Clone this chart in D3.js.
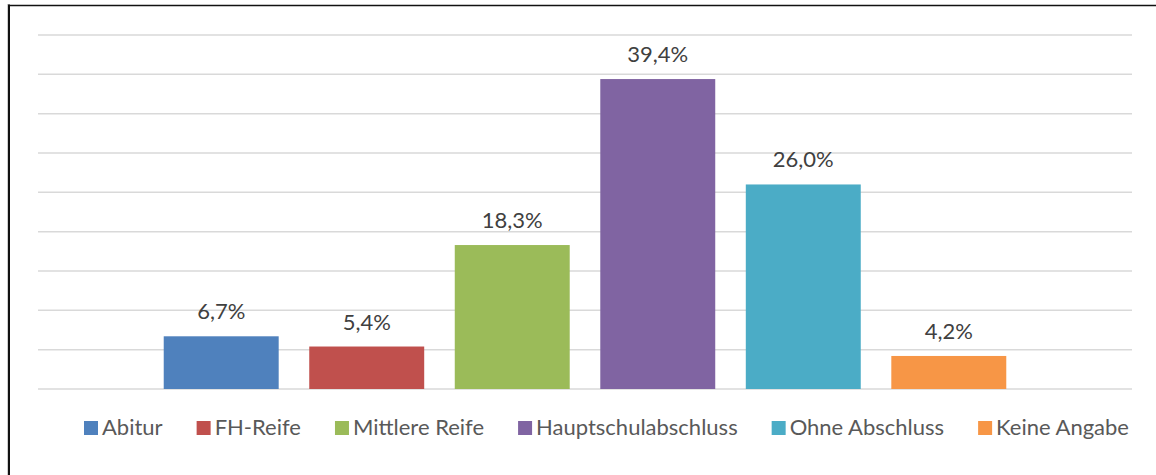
<!DOCTYPE html>
<html>
<head>
<meta charset="utf-8">
<script src="https://cdn.jsdelivr.net/npm/d3@7"></script>
<style>
  html, body { margin: 0; padding: 0; background: #fff; }
  svg { display: block; }
  text { font-family: Lato, "Open Sans", sans-serif; }
</style>
</head>
<body>
<svg width="1156" height="475"></svg>
<script>
// --- data ---
const categories = ["Abitur", "FH-Reife", "Mittlere Reife", "Hauptschulabschluss", "Ohne Abschluss", "Keine Angabe"];
const values = [6.7, 5.4, 18.3, 39.4, 26.0, 4.2];
const colors = ["#4F81BD", "#C0504D", "#9BBB59", "#8064A2", "#4BACC6", "#F79646"];
const gridTicks = [0, 5, 10, 15, 20, 25, 30, 35, 40, 45];

const svg = d3.select("svg");
const width = 1156, height = 475;
const plot = {left: 38, right: 1132, top: 35, bottom: 389};

// chart frame (only left and top edges are visible in the crop)
svg.append("line").attr("x1", 7.5).attr("x2", 7.5).attr("y1", 4).attr("y2", height)
  .attr("stroke", "#cfcfcf").attr("stroke-width", 1);
svg.append("line").attr("x1", 9).attr("x2", 9).attr("y1", 4.5).attr("y2", height)
  .attr("stroke", "#111").attr("stroke-width", 2);
svg.append("line").attr("x1", 8).attr("x2", width).attr("y1", 5.5).attr("y2", 5.5)
  .attr("stroke", "#111").attr("stroke-width", 1.5);

const y = d3.scaleLinear().domain([0, 45]).range([plot.bottom, plot.top]);
const x = d3.scaleBand().domain(categories).range([plot.left, plot.right])
  .paddingInner(0.21).paddingOuter(0.864);

// gridlines
svg.append("g").selectAll("line").data(gridTicks).enter().append("line")
  .attr("x1", plot.left).attr("x2", plot.right)
  .attr("y1", d => y(d)).attr("y2", d => y(d))
  .attr("stroke", "#d9d9d9").attr("stroke-width", 1.5);

// bars
svg.append("g").selectAll("rect").data(categories).enter().append("rect")
  .attr("x", d => x(d)).attr("width", x.bandwidth())
  .attr("y", (d, i) => y(values[i]))
  .attr("height", (d, i) => y(0) - y(values[i]))
  .attr("fill", (d, i) => colors[i]);

// value labels
const fmt = v => v.toFixed(1).replace(".", ",") + "%";
svg.append("g").selectAll("text").data(categories).enter().append("text")
  .attr("x", d => x(d) + x.bandwidth() / 2)
  .attr("y", (d, i) => y(values[i]) - 17)
  .attr("text-anchor", "middle")
  .attr("font-size", 22)
  .attr("fill", "#404040")
  .text((d, i) => fmt(values[i]));

// legend
const legend = svg.append("g");
const items = legend.selectAll("g").data(categories).enter().append("g");
items.append("rect").attr("width", 14).attr("height", 14).attr("y", 421)
  .attr("fill", (d, i) => colors[i]);
items.append("text").attr("x", 18).attr("y", 435)
  .attr("font-size", 22).attr("fill", "#595959").text(d => d);
let lx = 84;
items.each(function() {
  const g = d3.select(this);
  g.attr("transform", "translate(" + lx + ",0)");
  lx += 18 + g.select("text").node().getComputedTextLength() + 34;
});
</script>
</body>
</html>
